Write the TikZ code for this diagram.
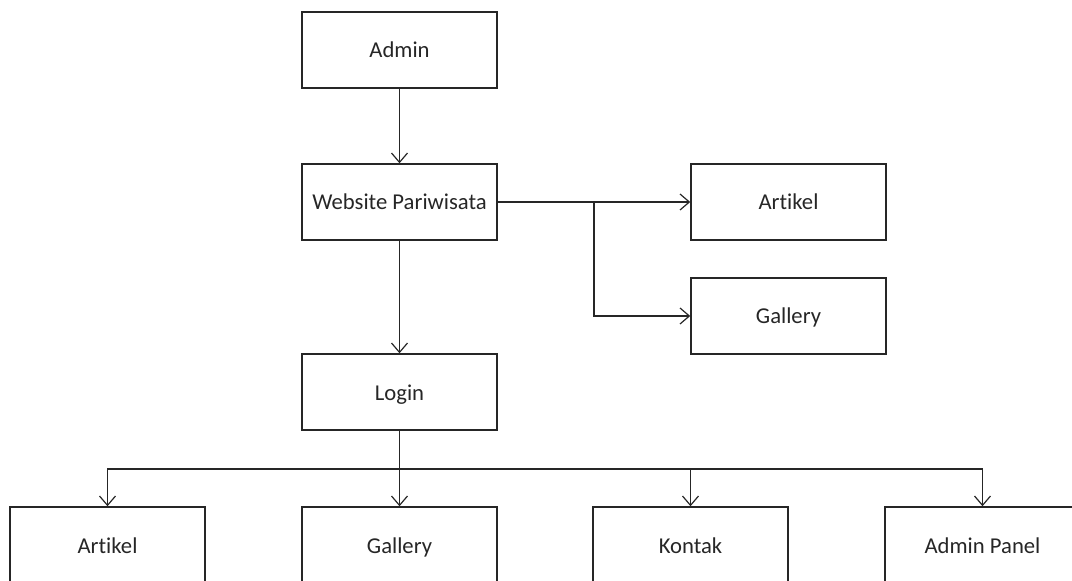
\documentclass[tikz,border=0pt]{standalone}
\usepackage{fontspec}
\setmainfont{Carlito}[Ligatures=NoCommon]
\usetikzlibrary{arrows.meta}
\begin{document}
\begin{tikzpicture}[x=0.75pt,y=-0.75pt,
  box/.style={draw=black!85,line width=1.1pt,minimum width=146.25pt,minimum height=57pt,inner sep=0pt,text height=13pt,text depth=1pt,font=\fontsize{17}{20}\selectfont,text=black!85},
  conn/.style={draw=black!85,line width=1.1pt},
  arr/.style={conn,-{Straight Barb[length=7pt,width=12pt,line width=0.9pt]}}]
\useasboundingbox (0,0) rectangle (1072,581);
\clip (0,0) rectangle (1072,581);
\node[box] (admin) at (399.5,50) {Admin};
\node[box] (web) at (399.5,202) {Website Pariwisata};
\node[box] (art1) at (788.5,202) {Artikel};
\node[box] (gal1) at (788.5,316) {Gallery};
\node[box] (login) at (399.5,392) {Login};
\node[box] (art2) at (107.5,545) {Artikel};
\node[box] (gal2) at (399.5,545) {Gallery};
\node[box] (kon) at (690.5,545) {Kontak};
\node[box] (pan) at (982.5,545) {Admin Panel};
\coordinate (br) at (594,202);
\coordinate (bus) at (399.5,469);
\draw[arr] (admin.south) -- (web.north);
\draw[arr] (web.east) -- (art1.west);
\draw[arr] (br) |- (gal1.west);
\draw[arr] (web.south) -- (login.north);
\draw[conn] (login.south) -- (bus);
\draw[arr] (bus) -| (art2.north);
\draw[arr] (bus) -- (gal2.north);
\draw[arr] (bus) -| (kon.north);
\draw[arr] (bus) -| (pan.north);
\end{tikzpicture}
\end{document}
